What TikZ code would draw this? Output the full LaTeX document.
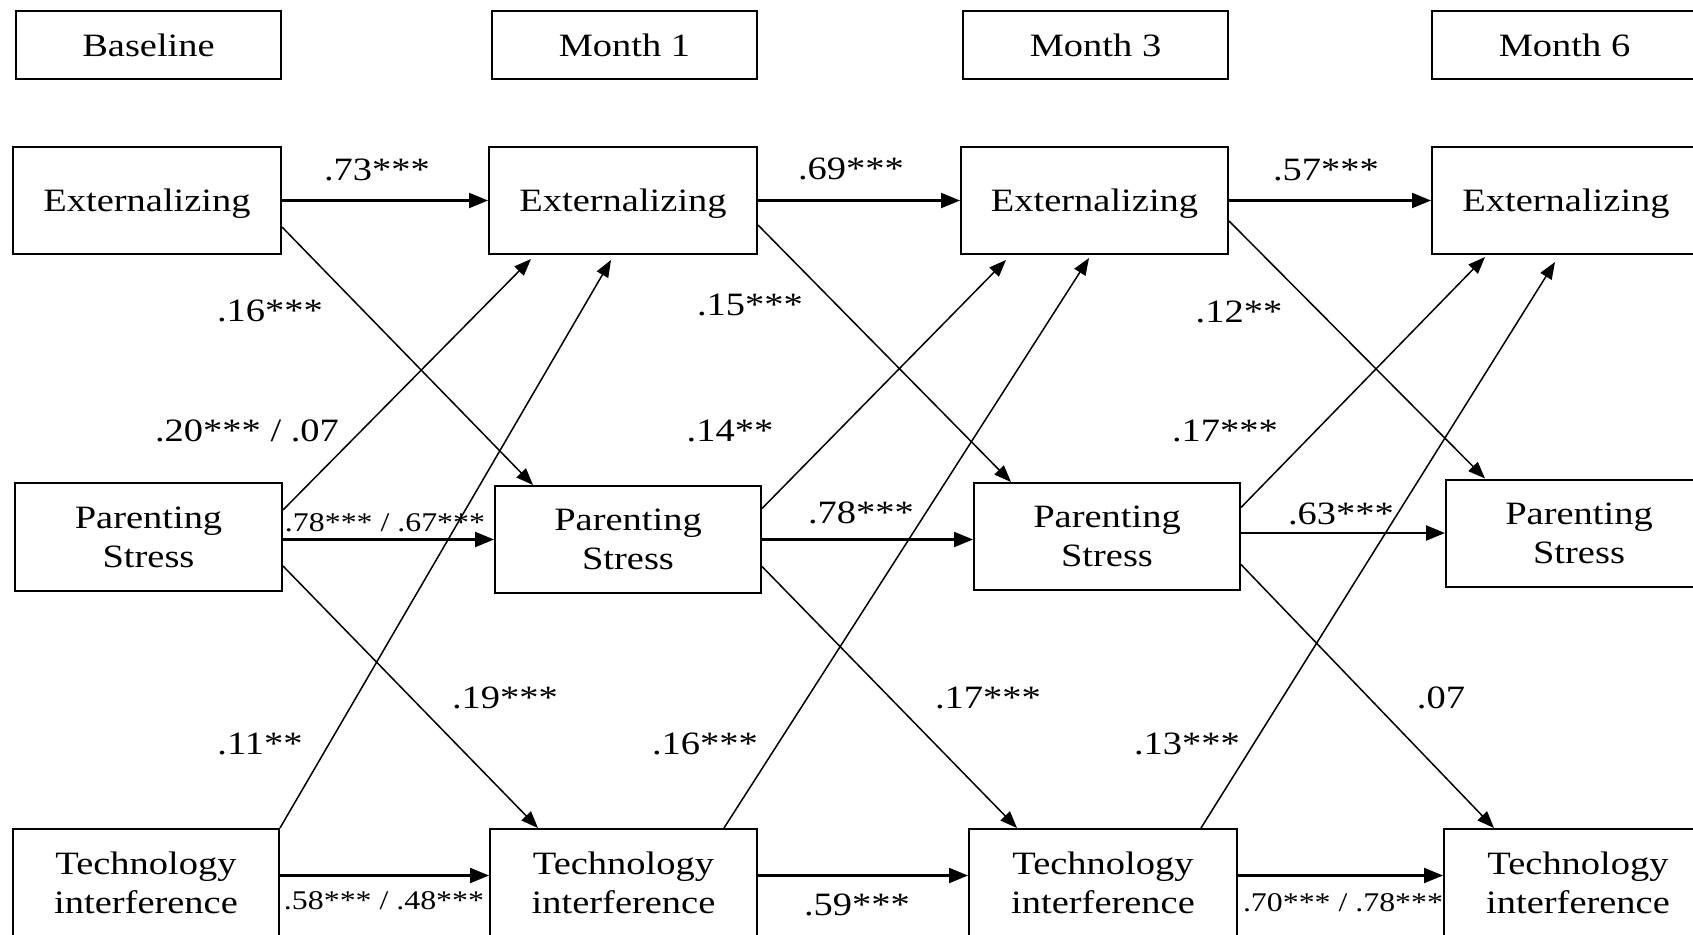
\documentclass[tikz,border=0pt]{standalone}
\usepackage{fontspec}
\setmainfont{Liberation Serif}[FakeStretch=1.18]
\usetikzlibrary{arrows.meta}

\tikzset{
  hdr/.style={draw, line width=2.8pt, minimum width=265pt, minimum height=68pt,
    inner sep=0pt, font=\fontsize{32.6}{39}\selectfont},
  vbox/.style={draw, line width=2pt, minimum width=267pt, minimum height=107pt,
    inner sep=0pt, align=center, font=\fontsize{32.6}{39}\selectfont},
  coef/.style={inner sep=0pt, font=\fontsize{32.6}{39}\selectfont},
  coefsm/.style={inner sep=0pt, font=\fontsize{27}{32}\selectfont},
  stab/.style={line width=2.2pt, -{Triangle[length=19pt,width=15pt]}},
  lag/.style={line width=1.5pt, -{Triangle[length=17pt,width=13pt]}},
}

\begin{document}
\begin{tikzpicture}[x=1pt, y=-1pt]
\clip (0,0) rectangle (1693,934);
\fill[white] (0,0) rectangle (1693,934);

% wave headers
\node[hdr] (hB)  at (148.5,45)  {Baseline};
\node[hdr] (hM1) at (624.5,45)  {Month 1};
\node[hdr] (hM3) at (1095.5,45) {Month 3};
\node[hdr] (hM6) at (1564.5,45) {Month 6};

% externalizing row
\node[vbox, text depth=0pt, minimum width=268pt] (eB)  at (147,200.5)    {Externalizing};
\node[vbox, text depth=0pt, minimum width=268pt] (eM1) at (623,200.5)    {Externalizing};
\node[vbox, text depth=0pt, minimum width=267pt] (eM3) at (1094.5,200.5) {Externalizing};
\node[vbox, text depth=0pt, minimum width=268pt] (eM6) at (1566,200.5)   {Externalizing};

% parenting stress row
\node[vbox, minimum height=108pt] (pB) at (148.5,537) {Parenting\\Stress};
\node[vbox, minimum width=266pt] (pM1) at (628,539.5)  {Parenting\\Stress};
\node[vbox, minimum width=266pt] (pM3) at (1107,536.5) {Parenting\\Stress};
\node[vbox, minimum width=266pt] (pM6) at (1579,533)   {Parenting\\Stress};

% technology interference row
\node[vbox, minimum width=266pt] (tB)  at (146,882.5)   {Technology\\interference};
\node[vbox] (tM1) at (623.5,882.5) {Technology\\interference};
\node[vbox, minimum width=268pt] (tM3) at (1103,882.5)  {Technology\\interference};
\node[vbox, minimum width=268pt] (tM6) at (1578,882.5)  {Technology\\interference};

% stability paths
\draw[stab] (eB.east) -- (eM1.west);
\draw[stab] (eM1.east) -- (eM3.west);
\draw[stab] (eM3.east) -- (eM6.west);
\draw[stab] (pB.east |- pM1.west) -- (pM1.west);
\draw[stab] (pM1.east) -- (pM3.west |- pM1.east);
\draw[stab] (pM3.east |- pM6.west) -- (pM6.west);
\draw[stab] ([yshift=7pt]tB.east) -- ([yshift=7pt]tM1.west);
\draw[stab] ([yshift=7pt]tM1.east) -- ([yshift=7pt]tM3.west);
\draw[stab] ([yshift=7pt]tM3.east) -- ([yshift=7pt]tM6.west);

% cross-lagged paths
\draw[lag] ([yshift=-26.5pt]eB.east)  -- ([xshift=39pt]pM1.north west);
\draw[lag] ([yshift=-24.5pt]eM1.east) -- ([xshift=38pt]pM3.north west);
\draw[lag] ([yshift=-20.5pt]eM3.east) -- ([xshift=40pt]pM6.north west);

\draw[lag] ([yshift=27pt]pB.east)  -- ([xshift=43pt,yshift=-4pt]eM1.south west);
\draw[lag] ([yshift=-29pt]pB.east) -- ([xshift=49pt]tM1.north west);
\draw[lag] (tB.north east) -- ([xshift=123pt,yshift=-5pt]eM1.south west);

\draw[lag] ([yshift=31pt]pM1.east)  -- ([xshift=46pt,yshift=-5pt]eM3.south west);
\draw[lag] ([yshift=-27pt]pM1.east) -- ([xshift=49pt]tM3.north west);
\draw[lag] ([xshift=235pt]tM1.north west) -- ([xshift=129pt,yshift=-3pt]eM3.south west);

\draw[lag] ([yshift=29pt]pM3.east)  -- ([xshift=54pt,yshift=-2pt]eM6.south west);
\draw[lag] ([yshift=-28pt]pM3.east) -- ([xshift=51pt]tM6.north west);
\draw[lag] ([xshift=233pt]tM3.north west) -- ([xshift=124pt,yshift=-7pt]eM6.south west);

% coefficients
\node[coef] (c1)  at (377,170)  {.73***};
\node[coef] (c2)  at (851,169)  {.69***};
\node[coef] (c3)  at (1326,170) {.57***};
\node[coef] (c4)  at (270,311)  {.16***};
\node[coef] (c5)  at (750,305)  {.15***};
\node[coef] (c6)  at (1239,312) {.12**};
\node[coef] (c7)  at (247,431)  {.20*** / .07};
\node[coef] (c8)  at (730,431)  {.14**};
\node[coef] (c9)  at (1225,431) {.17***};
\node[coefsm] (c10) at (385,523) {.78*** / .67***};
\node[coef] (c11) at (861,513)  {.78***};
\node[coef] (c12) at (1341,514) {.63***};
\node[coef] (c13) at (505,698)  {.19***};
\node[coef] (c14) at (988,698)  {.17***};
\node[coef] (c15) at (1441,698) {.07};
\node[coef] (c16) at (260,744)  {.11**};
\node[coef] (c17) at (705,744)  {.16***};
\node[coef] (c18) at (1187,744) {.13***};
\node[coefsm] (c19) at (384,901) {.58*** / .48***};
\node[coef] (c20) at (857,905)  {.59***};
\node[coefsm] (c21) at (1343,903) {.70*** / .78***};
\end{tikzpicture}
\end{document}
